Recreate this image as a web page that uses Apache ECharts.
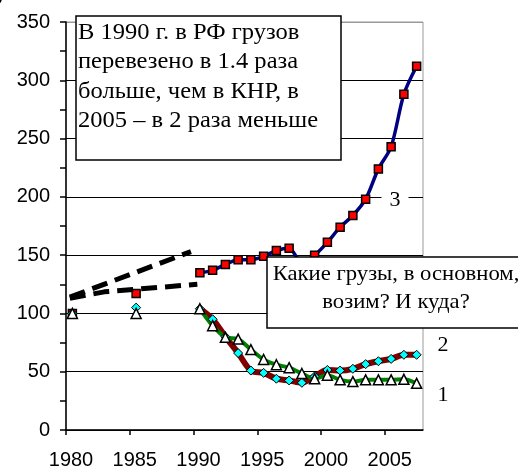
<!DOCTYPE html>
<html>
<head>
<meta charset="utf-8">
<script src="https://cdn.jsdelivr.net/npm/echarts@6/dist/echarts.min.js"></script>
<style>html,body{margin:0;padding:0;background:#fff;}#c{width:518px;height:470px;}</style>
</head>
<body>
<div id="c"></div>
<script>
// ---- data ----
const earlyYears = [1980.5, 1985.5];
const s3Early = [100, 117];
const s2Early = [100, 105];
const s1Early = [100, 100];

const years = [1990.5, 1991.5, 1992.5, 1993.5, 1994.5, 1995.5, 1996.5, 1997.5, 1998.5, 1999.5,
               2000.5, 2001.5, 2002.5, 2003.5, 2004.5, 2005.5, 2006.5, 2007.5];
const s3 = [135, 137, 142, 146, 146, 149, 154, 156, 143, 150, 161, 174, 184, 198, 224, 243, 288, 312];
const s2 = [104, 95, 80, 66, 51, 49, 44, 42.5, 40.5, 46, 51.5, 51, 52.5, 56.5, 59, 61, 64.5, 64.5];
const s1 = [104, 89.5, 79.5, 78, 69, 60.5, 56, 53.5, 48.5, 44, 47, 43, 41.5, 43, 43, 43, 43.5, 40];

const dashUpperX = [1980.3, 1989.8];
const dashUpperY = [114, 153];
const dashLowerX = [1980.3, 1983, 1990.3];
const dashLowerY = [113, 118.5, 125];

const yTicks = [0, 50, 100, 150, 200, 250, 300, 350];
const xTicks = [1980, 1985, 1990, 1995, 2000, 2005];

const boxText1 = 'В 1990 г. в РФ грузов\nперевезено в 1.4 раза\nбольше, чем в КНР, в\n2005 – в 2 раза меньше';
const boxText2 = 'Какие грузы, в основном,\nвозим? И куда?';
const seriesLabels = ['1', '2', '3'];

const zip = (xs, ys) => xs.map((x, i) => [x, ys[i]]);

const SANS = '"Liberation Sans", Arial, sans-serif';
const SERIF = '"Liberation Serif", "Times New Roman", serif';

const chart = echarts.init(document.getElementById('c'), null, {renderer: 'canvas'});
chart.setOption({
  animation: false,
  backgroundColor: '#fff',
  grid: {left: 66, top: 22, right: 95, bottom: 40, show: true, borderColor: '#999', borderWidth: 1, backgroundColor: 'transparent'},
  xAxis: {
    type: 'value', min: 1980, max: 2008, interval: 5,
    axisLine: {lineStyle: {color: '#000', width: 1.5}},
    axisTick: {length: 5, lineStyle: {color: '#000', width: 1.5}},
    axisLabel: {color: '#000', fontFamily: SANS, fontSize: 20, margin: 20, padding: [0, 0, 0, 10],
      showMaxLabel: false,
      formatter: v => xTicks.indexOf(v) >= 0 ? String(v) : ''},
    splitLine: {show: false}
  },
  yAxis: {
    type: 'value', min: 0, max: 350, interval: 50,
    axisLine: {show: true, lineStyle: {color: '#000', width: 1.5}},
    axisTick: {show: true, length: 6, lineStyle: {color: '#000', width: 1.5}},
    minorTick: {show: true, splitNumber: 2, length: 6, lineStyle: {color: '#000', width: 1.5}},
    axisLabel: {color: '#000', fontFamily: SANS, fontSize: 20, margin: 16,
      formatter: v => yTicks.indexOf(v) >= 0 ? String(v) : ''},
    splitLine: {show: true, lineStyle: {color: ['#000','#000','#000','#000','#000','#000','#000','#999'], width: 1.2}}
  },
  series: [
    {type: 'line', data: zip(dashUpperX, dashUpperY), symbol: 'none', silent: true,
      lineStyle: {color: '#000', width: 5, type: [16, 8], cap: 'butt'}},
    {type: 'line', data: zip(dashLowerX, dashLowerY), symbol: 'none', silent: true,
      lineStyle: {color: '#000', width: 5, type: [16, 8], cap: 'butt'}},
    {type: 'line', name: '3', data: zip(years, s3), smooth: 0.3, symbol: 'rect', symbolSize: 8,
      lineStyle: {color: '#000080', width: 3.5},
      itemStyle: {color: '#ff0000', borderColor: '#000', borderWidth: 1.5}},
    {type: 'scatter', data: zip(earlyYears, s3Early), symbol: 'rect', symbolSize: 8,
      itemStyle: {color: '#ff0000', borderColor: '#000', borderWidth: 1.5, opacity: 1}},
    {type: 'line', name: '2', data: zip(years, s2), smooth: 0.3, symbol: 'diamond', symbolSize: 9,
      lineStyle: {color: '#800000', width: 6},
      itemStyle: {color: '#00ffff', borderColor: '#000', borderWidth: 1}},
    {type: 'scatter', data: zip(earlyYears, s2Early), symbol: 'diamond', symbolSize: 9,
      itemStyle: {color: '#00ffff', borderColor: '#000', borderWidth: 1, opacity: 1}},
    {type: 'line', name: '1', data: zip(years, s1), smooth: 0.3, symbol: 'triangle', symbolSize: 10,
      lineStyle: {color: '#008000', width: 4},
      itemStyle: {color: '#ffffff', borderColor: '#000', borderWidth: 1.5}},
    {type: 'scatter', data: zip(earlyYears, s1Early), symbol: 'triangle', symbolSize: 10,
      itemStyle: {color: '#ffffff', borderColor: '#000', borderWidth: 1.5, opacity: 1}}
  ],
  graphic: [
    {type: 'text', left: -4, top: -16, z: 100, style: {text: ')', font: '22px ' + SERIF, fill: '#000'}},
    {type: 'rect', z: 100, shape: {x: 76, y: 16, width: 265, height: 144},
      style: {fill: '#fff', stroke: '#000', lineWidth: 1.5}},
    {type: 'text', z: 101, x: 78, y: 18, scaleX: 1.09,
      style: {text: boxText1, font: '22.5px ' + SERIF, fill: '#000', lineHeight: 29.5, textAlign: 'left', textVerticalAlign: 'top'}},
    {type: 'rect', z: 100, shape: {x: 267, y: 257, width: 260, height: 71},
      style: {fill: '#fff', stroke: '#000', lineWidth: 1.5}},
    {type: 'text', z: 101, x: 396, y: 260, scaleX: 1.08,
      style: {text: boxText2, font: '21px ' + SERIF, fill: '#000', lineHeight: 28.5, textAlign: 'center', textVerticalAlign: 'top'}},
    {type: 'text', z: 100, x: 395, y: 200,
      style: {text: seriesLabels[2], font: '22px ' + SERIF, fill: '#000', backgroundColor: '#fff', padding: [2, 8], textAlign: 'center', textVerticalAlign: 'middle'}},
    {type: 'text', z: 100, x: 443, y: 345,
      style: {text: seriesLabels[1], font: '22px ' + SERIF, fill: '#000', textAlign: 'center', textVerticalAlign: 'middle'}},
    {type: 'text', z: 100, x: 443, y: 395,
      style: {text: seriesLabels[0], font: '22px ' + SERIF, fill: '#000', textAlign: 'center', textVerticalAlign: 'middle'}}
  ]
});
</script>
</body>
</html>
